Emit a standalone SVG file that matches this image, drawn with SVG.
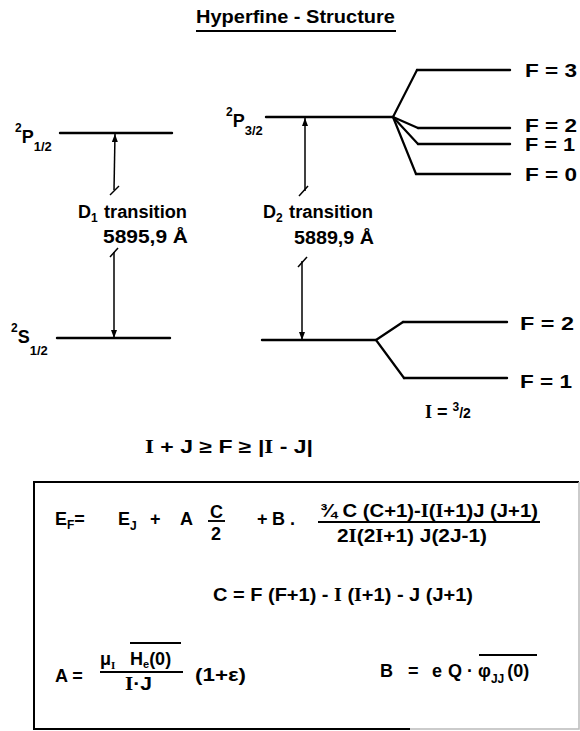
<svg xmlns="http://www.w3.org/2000/svg" width="580" height="731" viewBox="0 0 580 731">
<defs>
<style>
text{font-family:"Liberation Sans",Arial,sans-serif;font-weight:bold;fill:#000;font-size:18px}
.sm{font-size:12px}
.lvl{stroke:#000;stroke-width:2.4;fill:none;stroke-linecap:round}
.br{stroke:#000;stroke-width:2.2;fill:none;stroke-linejoin:round;stroke-linecap:round}
.tr{stroke:#000;stroke-width:1.5;fill:none}
.bar{stroke:#000;stroke-width:1.9}
.si{font-family:"Liberation Serif",serif}
</style>
<marker id="ah" markerUnits="userSpaceOnUse" markerWidth="8" markerHeight="6" refX="8" refY="3" orient="auto" viewBox="0 0 8 6"><path d="M0,0 L8,3 L0,6 z" fill="#000"/></marker>
</defs>
<rect width="580" height="731" fill="#fff"/>

<g id="title">
<text x="196" y="23" font-size="19" textLength="199" lengthAdjust="spacingAndGlyphs">Hyperfine - Structure</text>
<line x1="196" y1="31" x2="396" y2="31" stroke="#000" stroke-width="2"/>
</g>

<g id="P12">
<line class="lvl" x1="60" y1="133" x2="172" y2="133"/>
<text x="15" y="143" font-size="19"><tspan font-size="12" dy="-11">2</tspan><tspan dy="11">P</tspan><tspan font-size="13" dy="8">1/2</tspan></text>
</g>
<g id="S12">
<line class="lvl" x1="57" y1="338" x2="170" y2="338"/>
<text x="11" y="343" font-size="19"><tspan font-size="12" dy="-11">2</tspan><tspan dy="11">S</tspan><tspan font-size="13" dy="12">1/2</tspan></text>
</g>
<g id="P32">
<line class="lvl" x1="266" y1="117" x2="393" y2="117"/>
<text x="226" y="127" font-size="19"><tspan font-size="12" dy="-11">2</tspan><tspan dy="11">P</tspan><tspan font-size="13" dy="8">3/2</tspan></text>
</g>
<g id="S12b">
<line class="lvl" x1="262" y1="340" x2="376" y2="340"/>
</g>
<g id="P32F3"><line class="lvl" x1="417" y1="70" x2="510" y2="70"/><text x="525" y="77" textLength="52" lengthAdjust="spacingAndGlyphs">F = 3</text></g>
<g id="P32F2"><line class="lvl" x1="418" y1="128" x2="510" y2="128"/><text x="525" y="132" font-size="14" textLength="52" lengthAdjust="spacingAndGlyphs">F = 2</text></g>
<g id="P32F1"><line class="lvl" x1="418" y1="144" x2="510" y2="144"/><text x="525" y="151" font-size="14" textLength="50" lengthAdjust="spacingAndGlyphs">F = 1</text></g>
<g id="P32F0"><line class="lvl" x1="416" y1="174" x2="510" y2="174"/><text x="525" y="181" textLength="52" lengthAdjust="spacingAndGlyphs">F = 0</text></g>
<g id="S12F2"><line class="lvl" x1="403" y1="322" x2="507" y2="322"/><text x="520" y="330" textLength="54" lengthAdjust="spacingAndGlyphs">F = 2</text></g>
<g id="S12F1"><line class="lvl" x1="404" y1="378" x2="507" y2="378"/><text x="520" y="388" textLength="52" lengthAdjust="spacingAndGlyphs">F = 1</text></g>

<g id="D1label">
<text x="78" y="218">D<tspan font-size="12" dy="4">1</tspan></text>
<text x="104" y="218" textLength="83" lengthAdjust="spacingAndGlyphs">transition</text>
<text x="103" y="243" textLength="85" lengthAdjust="spacingAndGlyphs">5895,9 Å</text>
</g>
<g id="D2label">
<text x="263" y="218">D<tspan font-size="12" dy="4">2</tspan></text>
<text x="289" y="218" textLength="84" lengthAdjust="spacingAndGlyphs">transition</text>
<text x="294" y="244" textLength="80" lengthAdjust="spacingAndGlyphs">5889,9 Å</text>
</g>

<g id="spin">
<text x="425" y="418"><tspan class="si">I</tspan> = <tspan font-size="12" dy="-7">3</tspan><tspan font-size="14" dy="7">/2</tspan></text>
</g>
<g id="rule">
<text x="145" y="453" textLength="168" lengthAdjust="spacingAndGlyphs"><tspan class="si">I</tspan> + J  ≥ F ≥  |<tspan class="si">I</tspan> - J|</text>
</g>

<g id="connectors">
<polyline class="br" points="417,70 393,117 418,128"/>
<polyline class="br" points="393,117 418,144"/>
<polyline class="br" points="393,117 416,174"/>
<polyline class="br" points="403,322 376,340 404,378"/>
<line class="tr" x1="114" y1="190" x2="115" y2="134" marker-end="url(#ah)"/>
<line class="tr" x1="110" y1="195" x2="119" y2="186"/>
<line class="tr" x1="110" y1="257" x2="118" y2="248"/>
<line class="tr" x1="114" y1="252" x2="114" y2="338" marker-end="url(#ah)"/>
<line class="tr" x1="305" y1="191" x2="305" y2="118" marker-end="url(#ah)"/>
<line class="tr" x1="299" y1="196" x2="308" y2="186"/>
<line class="tr" x1="298" y1="267" x2="307" y2="257"/>
<line class="tr" x1="302" y1="261" x2="302" y2="340" marker-end="url(#ah)"/>
</g>

<g id="formulas">
<path d="M579,482 H34 V729 H410" fill="none" stroke="#000" stroke-width="2"/>
<path d="M410,729 H579 V482" fill="none" stroke="#bbb" stroke-width="1.5"/>

<text x="55" y="525">E<tspan class="sm" dy="4">F</tspan><tspan dy="-4">=</tspan></text>
<text x="118" y="525">E<tspan class="sm" dy="5">J</tspan></text>
<text x="150" y="525">+</text>
<text x="180" y="525">A</text>
<text x="210" y="518" font-size="16">C</text>
<line class="bar" x1="208" y1="521" x2="225" y2="521"/>
<text x="211" y="540" font-size="16">2</text>
<text x="257" y="525">+</text>
<text x="272" y="525">B .</text>
<text x="320" y="517" font-size="17" textLength="218" lengthAdjust="spacingAndGlyphs">¾ C (C+1)-<tspan class="si">I</tspan>(<tspan class="si">I</tspan>+1)J (J+1)</text>
<line class="bar" x1="318" y1="522" x2="540" y2="522"/>
<text x="337" y="542" font-size="17" textLength="150" lengthAdjust="spacingAndGlyphs">2<tspan class="si">I</tspan>(2<tspan class="si">I</tspan>+1) J(2J-1)</text>

<text x="213" y="601" textLength="260" lengthAdjust="spacingAndGlyphs">C = F (F+1) - <tspan class="si">I</tspan> (<tspan class="si">I</tspan>+1) - J (J+1)</text>

<text x="55" y="682">A =</text>
<text x="100" y="665">μ<tspan font-size="11" dy="4" class="si">I</tspan></text>
<text x="130" y="665">H<tspan font-size="11" dy="3">e</tspan><tspan dy="-3">(0)</tspan></text>
<line class="bar" x1="130" y1="643" x2="181" y2="643"/>
<line class="bar" x1="100" y1="672" x2="183" y2="672"/>
<text x="125" y="690" textLength="27" lengthAdjust="spacingAndGlyphs"><tspan class="si">I</tspan>·J</text>
<text x="195" y="681" textLength="51" lengthAdjust="spacingAndGlyphs">(1+ε)</text>

<text x="380" y="677">B</text>
<text x="408" y="677">=</text>
<text x="432" y="677">e</text>
<text x="448" y="677">Q</text>
<text x="467" y="677">·</text>
<text x="478" y="677">φ<tspan font-size="12" dy="6">JJ</tspan><tspan dy="-6" dx="3">(0)</tspan></text>
<line class="bar" x1="479" y1="655" x2="537" y2="655"/>
</g>
</svg>
